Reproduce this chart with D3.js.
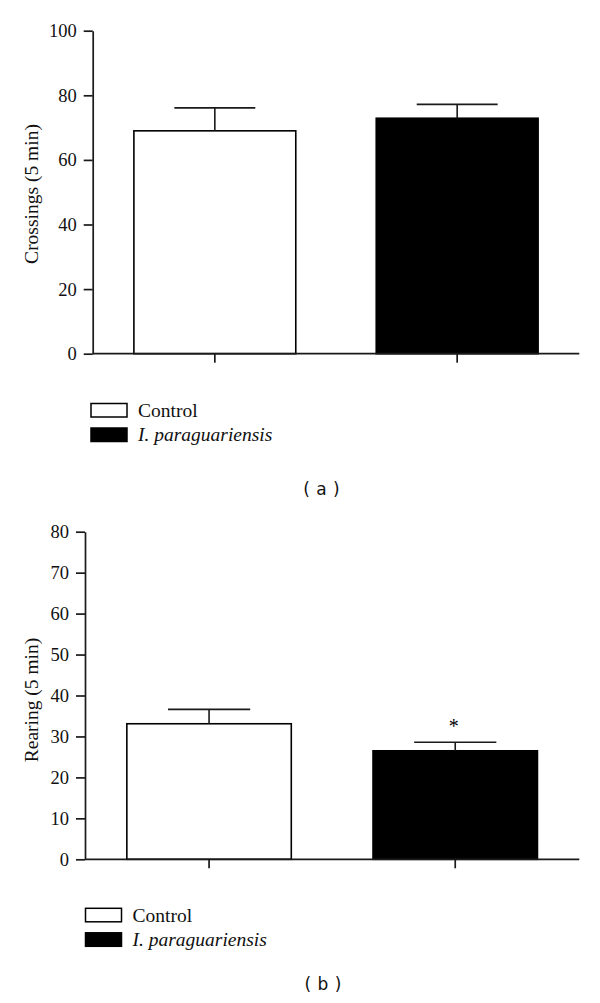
<!DOCTYPE html>
<html>
<head>
<meta charset="utf-8">
<script src="https://d3js.org/d3.v7.min.js"></script>
<style>
  html, body { margin: 0; padding: 0; background: #fff; }
  svg { display: block; }
</style>
</head>
<body>
<svg id="chart" width="600" height="1003"></svg>
<script>
// ---------- data ----------
const groups = ["Control", "I. paraguariensis"];
const crossingsMean = [69.0, 72.9];
const crossingsSem = [7.1, 4.3];
const rearingMean = [33.1, 26.5];
const rearingSem = [3.5, 2.1];
const rearingSignificant = [false, true];
const crossingsTicks = [0, 20, 40, 60, 80, 100];
const rearingTicks = [0, 10, 20, 30, 40, 50, 60, 70, 80];
const fills = ["#ffffff", "#000000"];
const italicLabel = [false, true];

const svg = d3.select("#chart");
const serif = "'Liberation Serif', 'Times New Roman', serif";
const sans = "'DejaVu Sans', Verdana, sans-serif";
const axisColor = "#1a1a1a";

function panel(cfg) {
  const g = svg.append("g");
  const x = d3.scaleBand().domain(groups)
    .range([cfg.x0, cfg.x1]).paddingInner(0.332).paddingOuter(0.17);
  const y = d3.scaleLinear().domain(cfg.domain).range([cfg.yBottom, cfg.yTop]);

  // bars
  g.selectAll("rect.bar").data(groups).join("rect")
    .attr("class", "bar")
    .attr("x", d => x(d))
    .attr("width", x.bandwidth())
    .attr("y", (d, i) => y(cfg.mean[i]))
    .attr("height", (d, i) => y(0) - y(cfg.mean[i]))
    .attr("fill", (d, i) => fills[i])
    .attr("stroke", "#000")
    .attr("stroke-width", 1.6);

  // error bars (upper only)
  groups.forEach((d, i) => {
    const cx = x(d) + x.bandwidth() / 2;
    const top = y(cfg.mean[i] + cfg.sem[i]);
    const half = x.bandwidth() / 4;
    g.append("line").attr("x1", cx).attr("x2", cx)
      .attr("y1", y(cfg.mean[i])).attr("y2", top)
      .attr("stroke", "#1a1a1a").attr("stroke-width", 1.6);
    g.append("line").attr("x1", cx - half).attr("x2", cx + half)
      .attr("y1", top).attr("y2", top)
      .attr("stroke", "#1a1a1a").attr("stroke-width", 1.6);
    if (cfg.sig && cfg.sig[i]) {
      g.append("text").attr("x", cx - 1.5).attr("y", top - 9)
        .attr("text-anchor", "middle")
        .style("font-family", serif).style("font-size", "20px")
        .text("*");
    }
  });

  // y axis
  const ya = g.append("g").attr("transform", `translate(${cfg.x0},0)`)
    .call(d3.axisLeft(y).tickValues(cfg.ticks).tickSize(9).tickPadding(7).tickSizeOuter(0));
  ya.selectAll("text").style("font-family", serif).style("font-size", "18.5px").attr("fill", "#111");
  ya.selectAll("line, path").attr("stroke", axisColor).attr("stroke-width", 1.7);

  // x axis
  const xa = g.append("g").attr("transform", `translate(0,${cfg.yBottom})`)
    .call(d3.axisBottom(x).tickSize(9).tickSizeOuter(0).tickFormat(""));
  xa.select("path.domain").attr("d", `M${cfg.x0},0H${cfg.x1}`);
  xa.selectAll("line, path").attr("stroke", axisColor).attr("stroke-width", 1.7);

  // y title
  g.append("text")
    .attr("transform", `translate(${cfg.titleX},${cfg.titleY}) rotate(-90)`)
    .attr("text-anchor", "middle")
    .style("font-family", serif).style("font-size", "19.5px")
    .attr("fill", "#111")
    .text(cfg.title);

  // legend
  groups.forEach((d, i) => {
    const ly = cfg.legendY + i * 24.5;
    g.append("rect").attr("x", cfg.legendX).attr("y", ly)
      .attr("width", 36).attr("height", 13.5)
      .attr("fill", fills[i]).attr("stroke", "#000").attr("stroke-width", 1.5);
    g.append("text").attr("x", cfg.legendX + 47).attr("y", ly + 13.3)
      .style("font-family", serif).style("font-size", "19.5px")
      .style("font-style", italicLabel[i] ? "italic" : "normal")
      .attr("fill", "#111")
      .text(d);
  });

  // panel label
  g.append("text").attr("x", cfg.labelX).attr("y", cfg.labelY)
    .attr("text-anchor", "middle")
    .style("font-family", sans).style("font-size", "17px")
    .style("word-spacing", "1px")
    .attr("fill", "#111")
    .text(cfg.label);
}

panel({
  x0: 92.7, x1: 579.3, yTop: 30.7, yBottom: 353.7,
  domain: [0, 100], ticks: crossingsTicks,
  mean: crossingsMean, sem: crossingsSem,
  title: "Crossings (5 min)", titleX: 37.5, titleY: 194,
  legendX: 91, legendY: 403.5,
  label: "( a )", labelX: 321.5, labelY: 494.5
});

panel({
  x0: 85, x1: 579.3, yTop: 531.7, yBottom: 859.3,
  domain: [0, 80], ticks: rearingTicks,
  mean: rearingMean, sem: rearingSem, sig: rearingSignificant,
  title: "Rearing (5 min)", titleX: 37.5, titleY: 700,
  legendX: 85.5, legendY: 908.3,
  label: "( b )", labelX: 323, labelY: 990
});
</script>
</body>
</html>
